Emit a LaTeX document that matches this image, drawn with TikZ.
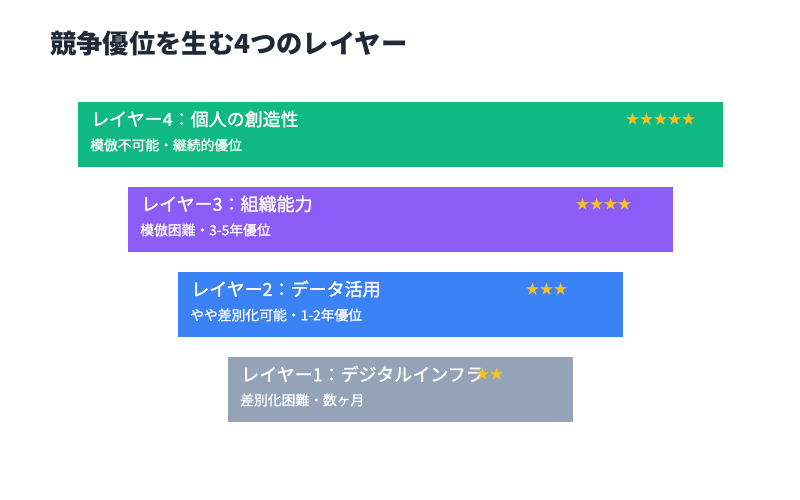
\documentclass[tikz,border=0pt]{standalone}
\usepackage{fontspec}
\setmainfont{Noto Sans CJK JP}
\newfontfamily\jpmed{Noto Sans CJK JP}[FakeBold=1.6]
\newfontfamily\jpsub{Noto Sans CJK JP}[FakeBold=1.2]
\definecolor{ink}{HTML}{1F2937}
\definecolor{c4}{HTML}{10B981}
\definecolor{c3}{HTML}{8B5CF6}
\definecolor{c2}{HTML}{3B82F6}
\definecolor{c1}{HTML}{94A3B8}
\definecolor{star}{HTML}{FBBF24}
\tikzset{
  layerbox/.style={rectangle, inner sep=0pt, minimum width=#1, minimum height=65pt, anchor=north west, draw=none},
  ltitle/.style={anchor=west, inner sep=0pt, text=white, font=\jpmed\fontsize{18}{20}\selectfont},
  lsub/.style={anchor=west, inner sep=0pt, text=white, font=\jpsub\fontsize{13.8}{16}\selectfont},
  lstar/.style={anchor=west, inner sep=0pt, text=star, font=\fontsize{14}{16}\selectfont},
}
\begin{document}
\begin{tikzpicture}[x=1pt,y=-1pt]
\useasboundingbox (0,0) rectangle (800,500);
\fill[white] (0,0) rectangle (800,500);
\node[anchor=west, inner sep=0pt, text=ink, font=\fontsize{26.3}{30}\selectfont\bfseries] (title) at (50,44) {競争優位を生む4つのレイヤー};

\node[layerbox=645pt, fill=c4] (L4) at (78,102) {};
\node[ltitle] (L4t) at ([xshift=13pt,yshift=-17pt]L4.north west) {レイヤー4：個人の創造性};
\node[lsub] (L4s) at ([xshift=12pt,yshift=-43pt]L4.north west) {模倣不可能・継続的優位};
\node[lstar] (L4r) at ([xshift=-98pt,yshift=-17pt]L4.north east) {★★★★★};

\node[layerbox=545pt, fill=c3] (L3) at (128,187) {};
\node[ltitle] (L3t) at ([xshift=13pt,yshift=-17pt]L3.north west) {レイヤー3：組織能力};
\node[lsub] (L3s) at ([xshift=12pt,yshift=-43pt]L3.north west) {模倣困難・3-5年優位};
\node[lstar] (L3r) at ([xshift=-98pt,yshift=-17pt]L3.north east) {★★★★};

\node[layerbox=445pt, fill=c2] (L2) at (178,272) {};
\node[ltitle] (L2t) at ([xshift=13pt,yshift=-17pt]L2.north west) {レイヤー2：データ活用};
\node[lsub] (L2s) at ([xshift=12pt,yshift=-43pt]L2.north west) {やや差別化可能・1-2年優位};
\node[lstar] (L2r) at ([xshift=-98pt,yshift=-17pt]L2.north east) {★★★};

\node[layerbox=345pt, fill=c1] (L1) at (228,357) {};
\node[ltitle] (L1t) at ([xshift=13pt,yshift=-17pt]L1.north west) {レイヤー1：デジタルインフラ};
\node[lsub] (L1s) at ([xshift=12pt,yshift=-43pt]L1.north west) {差別化困難・数ヶ月};
\node[lstar] (L1r) at ([xshift=-98pt,yshift=-17pt]L1.north east) {★★};
\end{tikzpicture}
\end{document}
